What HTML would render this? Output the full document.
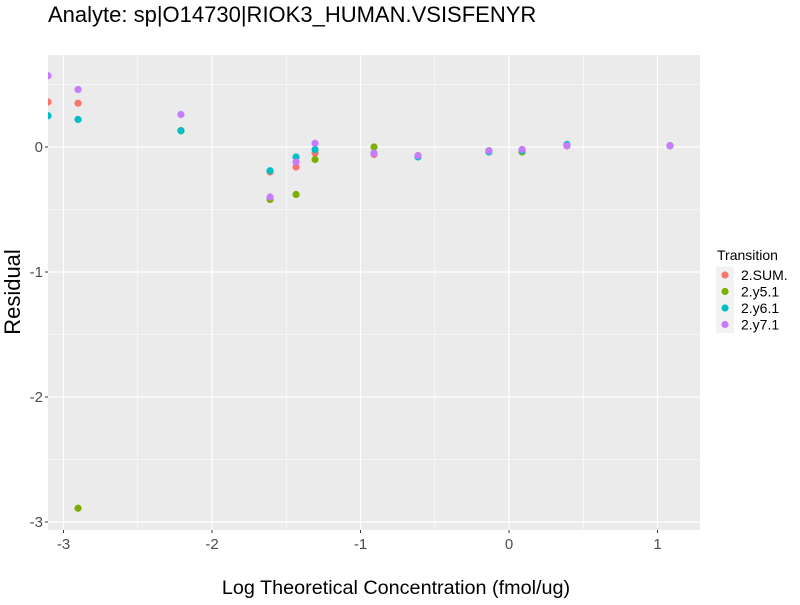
<!DOCTYPE html>
<html><head><meta charset="utf-8"><style>
body{margin:0;background:#fff;font-family:"Liberation Sans",sans-serif}
svg text{font-family:"Liberation Sans",sans-serif}
</style></head><body>
<svg id="c" width="800" height="600" xmlns="http://www.w3.org/2000/svg"><defs><clipPath id="pc"><rect x="48" y="55" width="652" height="475"/></clipPath></defs></svg>
<script>
const xVals=[-3.104,-2.902,-2.209,-1.609,-1.434,-1.306,-0.909,-0.613,-0.135,0.088,0.39,1.084];
const seriesNames=["2.SUM.","2.y5.1","2.y6.1","2.y7.1"];
const colors=["#F8766D","#7CAE00","#00BFC4","#C77CFF"];
const sumVals=[0.36,0.35,0.13,-0.20,-0.16,-0.05,-0.06,-0.07,-0.03,-0.03,0.01,0.01];
const y5Vals=[null,-2.89,0.13,-0.42,-0.38,-0.10,0.0,-0.07,-0.03,-0.04,0.01,0.01];
const y6Vals=[0.25,0.22,0.13,-0.19,-0.08,-0.02,-0.05,-0.08,-0.04,-0.03,0.02,0.01];
const y7Vals=[0.57,0.46,0.26,-0.40,-0.12,0.03,-0.05,-0.07,-0.03,-0.02,0.01,0.01];
const xTicks=[-3,-2,-1,0,1];
const yTicks=[0,-1,-2,-3];
const P={l:48,r:700,t:55,b:530};
const X=v=>509+v*148.5, Y=v=>147-v*125;
const svg=document.getElementById('c');const NS="http://www.w3.org/2000/svg";
function el(t,a,p){const e=document.createElementNS(NS,t);for(const k in a)e.setAttribute(k,a[k]);(p||svg).appendChild(e);return e;}
const panel=el('rect',{x:P.l,y:P.t,width:P.r-P.l,height:P.b-P.t,fill:'#EBEBEB'});


for(let i=0;i<xTicks.length-1;i++){const m=X((xTicks[i]+xTicks[i+1])/2);el('line',{x1:m,x2:m,y1:P.t,y2:P.b,stroke:'#fff','stroke-width':0.6});}
for(let i=0;i<yTicks.length-1;i++){const m=Y((yTicks[i]+yTicks[i+1])/2);el('line',{x1:P.l,x2:P.r,y1:m,y2:m,stroke:'#fff','stroke-width':0.6});}
el('line',{x1:P.l,x2:P.r,y1:Y(0.5),y2:Y(0.5),stroke:'#fff','stroke-width':0.6});
xTicks.forEach(v=>{const x=X(v);el('line',{x1:x,x2:x,y1:P.t,y2:P.b,stroke:'#fff','stroke-width':1.2});
el('line',{x1:x,x2:x,y1:P.b,y2:P.b+3,stroke:'#333'});
const t=el('text',{x:x,y:P.b+19,'text-anchor':'middle','font-size':15,fill:'#4d4d4d'});t.textContent=v;
});
yTicks.forEach(v=>{const y=Y(v);el('line',{x1:P.l,x2:P.r,y1:y,y2:y,stroke:'#fff','stroke-width':1.2});
el('line',{x1:P.l-3,x2:P.l,y1:y,y2:y,stroke:'#333'});
const t=el('text',{x:P.l-5,y:y+5,'text-anchor':'end','font-size':15,fill:'#4d4d4d'});t.textContent=v;
});
const g=el('g',{'clip-path':'url(#pc)'});
const all=[sumVals,y5Vals,y6Vals,y7Vals];
all.forEach((s,si)=>s.forEach((v,i)=>{if(v===null)return;
const c=el('circle',{cx:X(xVals[i]),cy:Y(v),r:3.6,fill:colors[si]},g);

}));
let t=el('text',{x:48,y:22,'font-size':22,fill:'#000'});t.textContent='Analyte: sp|O14730|RIOK3_HUMAN.VSISFENYR';

t=el('text',{x:396,y:594,'text-anchor':'middle','font-size':19.8,fill:'#000'});t.textContent='Log Theoretical Concentration (fmol/ug)';

t=el('text',{x:0,y:0,'text-anchor':'middle','font-size':22,fill:'#000',transform:'translate(20,292) rotate(-90)'});t.textContent='Residual';

t=el('text',{x:717,y:260,'font-size':14,fill:'#000'});t.textContent='Transition';

seriesNames.forEach((n,i)=>{const y=275+i*16.5;
el('rect',{x:716,y:y-8.5,width:18,height:17,fill:'#F2F2F2'});
const c=el('circle',{cx:725,cy:y,r:3.6,fill:colors[i]});

const tt=el('text',{x:741,y:y+5,'font-size':14,fill:'#000'});tt.textContent=n;
});
</script>
</body></html>
